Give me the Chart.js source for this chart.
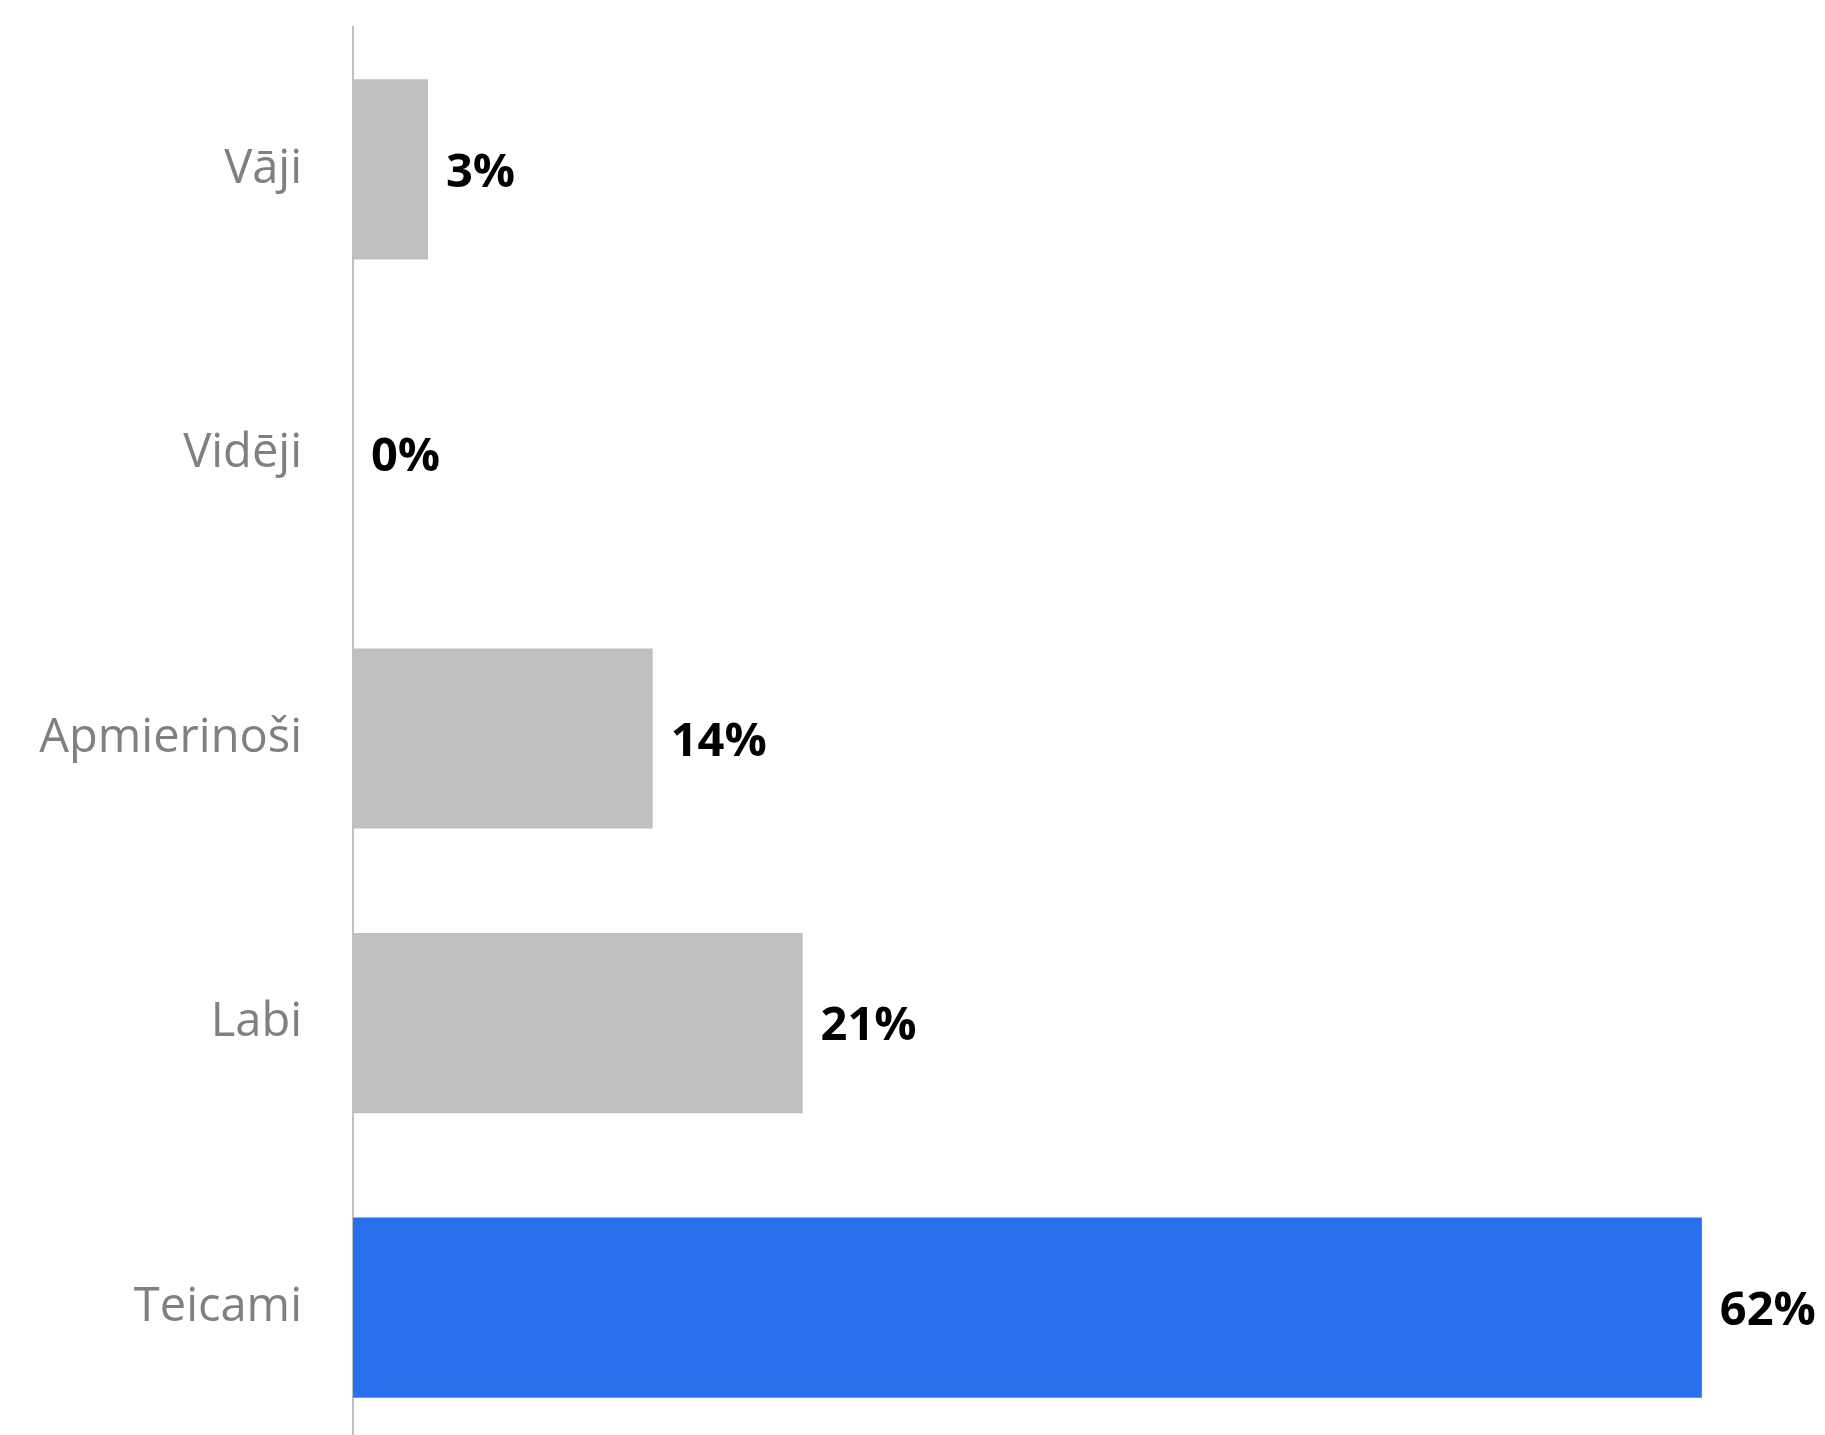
<!DOCTYPE html>
<html lang="lv">
<head>
<meta charset="utf-8">
<title>Vērtējums</title>
<script src="https://cdn.jsdelivr.net/npm/chart.js@4.4.1/dist/chart.umd.min.js"></script>
<style>
    html, body {
        margin: 0;
        padding: 0;
        background: #ffffff;
        overflow: hidden;
    }
</style>
</head>
<body>
<canvas id="myChart" width="1825" height="1450"></canvas>
<script>
// Datos del gráfico
const categorias = ['Vāji', 'Vidēji', 'Apmierinoši', 'Labi', 'Teicami'];
const valores = [3.45, 0, 13.79, 20.69, 62.07];
const etiquetas = ['3%', '0%', '14%', '21%', '62%'];
const colores = ['#bfbfbf', '#bfbfbf', '#bfbfbf', '#bfbfbf', '#2970ef'];

// Plugin para escribir el porcentaje al final de cada barra
const etiquetasBarras = {
    id: 'etiquetasBarras',
    afterDatasetsDraw(chart) {
        const ctx = chart.ctx;
        const meta = chart.getDatasetMeta(0);
        ctx.save();
        ctx.font = 'bold 47px "Open Sans"';
        ctx.fillStyle = '#000000';
        ctx.textAlign = 'left';
        ctx.textBaseline = 'middle';
        meta.data.forEach((bar, i) => {
            ctx.fillText(etiquetas[i], bar.x + 18, bar.y + 4);
        });
        ctx.restore();
    }
};

var ctx = document.getElementById('myChart').getContext('2d');

var myChart = new Chart(ctx, {
    type: 'bar',
    data: {
        labels: categorias,
        datasets: [{
            data: valores,
            backgroundColor: colores,
            borderWidth: 0,
            categoryPercentage: 1,
            barPercentage: 0.633
        }]
    },
    options: {
        indexAxis: 'y',
        responsive: false,
        animation: false,
        layout: {
            padding: { top: 27, right: 16, bottom: 0, left: 0 }
        },
        scales: {
            x: {
                display: false,
                min: 0,
                max: 67
            },
            y: {
                grid: { display: false, drawTicks: false },
                border: { display: true, color: '#c0c0c0', width: 2 },
                ticks: {
                    color: '#808080',
                    padding: 51,
                    font: { family: '"Open Sans"', size: 47 }
                },
                afterFit(scale) {
                    scale.width = 353; // el eje queda en x = 353
                    scale.paddingTop = 0;
                    scale.paddingBottom = 0;
                }
            }
        },
        plugins: {
            legend: { display: false },
            tooltip: { enabled: false }
        }
    },
    plugins: [etiquetasBarras]
});
</script>
</body>
</html>
